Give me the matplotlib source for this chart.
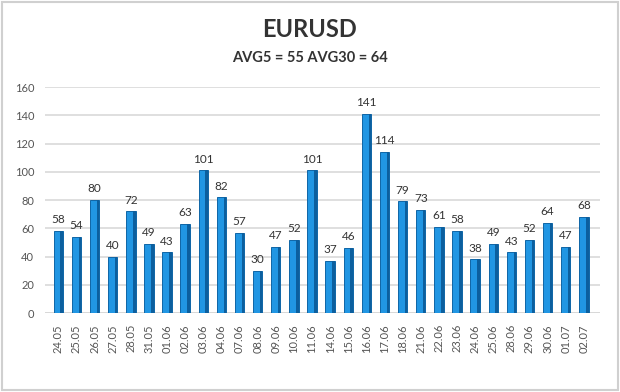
import matplotlib
matplotlib.use("Agg")
import matplotlib.pyplot as plt
from matplotlib.patches import Rectangle

dates = ["24.05","25.05","26.05","27.05","28.05","31.05","01.06","02.06","03.06","04.06",
         "07.06","08.06","09.06","10.06","11.06","14.06","15.06","16.06","17.06","18.06",
         "21.06","22.06","23.06","24.06","25.06","28.06","29.06","30.06","01.07","02.07"]
values = [58,54,80,40,72,49,43,63,101,82,57,30,47,52,101,37,46,141,114,79,
          73,61,58,38,49,43,52,64,47,68]
yticks = [0,20,40,60,80,100,120,140,160]
title = "EURUSD"
subtitle = "AVG5 = 55 AVG30 = 64"

plt.rcParams['font.family'] = ['Lato', 'DejaVu Sans']

fig = plt.figure(figsize=(6.2, 3.92), dpi=100)
fig.patch.set_facecolor('white')
fig.add_artist(Rectangle((0.004, 0.005), 0.992, 0.99, transform=fig.transFigure,
                         fill=False, edgecolor='#d0d0d0', linewidth=1.5))

ax = fig.add_axes([0.073, 0.2015, 0.895, 0.5765])
x = list(range(len(values)))
ax.bar(x, values, width=0.52, color='#2196e3', edgecolor='#0f65a6', linewidth=0.7, zorder=3)
# darker right face for 3D look
ax.bar([i + 0.19 for i in x], values, width=0.14, color='#0c5f9e', linewidth=0, zorder=4)

for i, v in enumerate(values):
    ax.text(i, v + 4, str(v), ha='center', va='bottom', fontsize=8.5, color='#333333')

ax.set_ylim(0, 160)
ax.set_xlim(-0.72, 29.9)
ax.set_yticks(yticks)
ax.set_yticklabels([str(t) for t in yticks], fontsize=8, color='#555555')
ax.set_xticks(x)
ax.set_xticklabels(dates, rotation=90, fontsize=8, color='#555555')
ax.grid(axis='y', color='#d9d9d9', linewidth=1.2, zorder=0)
for s in ax.spines.values():
    s.set_visible(False)
ax.axhline(0, color='#d0d0d0', linewidth=1.2, zorder=1)
ax.tick_params(length=0, pad=8)

fig.text(0.5, 0.925, title, ha='center', va='center', fontsize=17, fontweight='bold', color='#333333')
fig.text(0.5, 0.852, subtitle, ha='center', va='center', fontsize=10.5, fontweight='bold', color='#333333')

fig.savefig("out.png", dpi=100, facecolor='white')
